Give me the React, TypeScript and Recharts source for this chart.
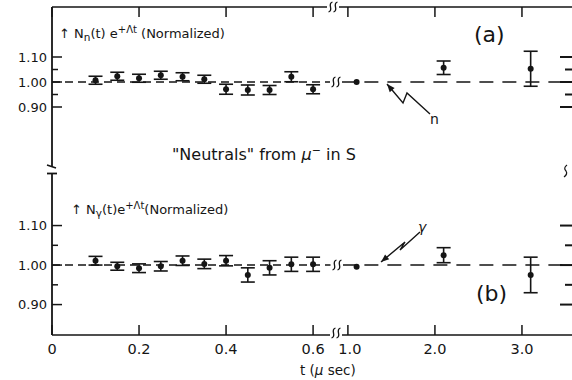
import { ComposedChart, Scatter, ErrorBar, XAxis, YAxis, ReferenceLine } from "recharts";

// time bins (µs) and normalized counts
const times = [0.1, 0.15, 0.2, 0.25, 0.3, 0.35, 0.4, 0.45, 0.5, 0.55, 0.6, 1.1, 2.1, 3.1];
const neutronValues = [1.007, 1.023, 1.015, 1.027, 1.021, 1.011, 0.971, 0.968, 0.968, 1.021, 0.971, 1.0, 1.057, 1.053];
const neutronErrors = [0.016, 0.016, 0.016, 0.016, 0.016, 0.016, 0.02, 0.02, 0.018, 0.02, 0.018, 0, 0.027, 0.07];
const gammaValues = [1.011, 0.997, 0.992, 0.997, 1.011, 1.003, 1.011, 0.975, 0.993, 1.002, 1.002, 0.996, 1.025, 0.975];
const gammaErrors = [0.011, 0.01, 0.011, 0.012, 0.012, 0.012, 0.013, 0.018, 0.018, 0.018, 0.018, 0, 0.019, 0.045];

const tickTimes = [0, 0.2, 0.4, 0.6, 1.0, 2.0, 3.0];
const tickLabels = ["0", "0.2", "0.4", "0.6", "1.0", "2.0", "3.0"];
const yTicks = [0.9, 0.95, 1.0, 1.05, 1.1];
const yTickLabels = ["0.90", "", "1.00", "", "1.10"];

const INK = "#151515";
const FONT = "DejaVu Sans";
const AXIS_MAX = 1.195;

// plot boxes of the two panels (page pixels) and their value ranges
const panelA = { top: 7, bottom: 167, domain: [0.66, 1.3] };
const panelB = { top: 173, bottom: 335, domain: [0.823, 1.233] };

// broken time axis: linear up to 0.6, then compressed after 1.0
const toAxis = (t: number) => (t <= 0.6 ? t : 0.68 + (t - 1.0) * 0.2);

const neutronRows = times.map((t, i) => ({ pos: toAxis(t), v: neutronValues[i], err: neutronErrors[i] }));
const gammaRows = times.map((t, i) => ({ pos: toAxis(t), v: gammaValues[i], err: gammaErrors[i] }));
const tickPositions = tickTimes.map(toAxis);

const nearest = (arr: number[], v: number) => {
  let best = 0;
  arr.forEach((a, i) => {
    if (Math.abs(a - v) < Math.abs(arr[best] - v)) best = i;
  });
  return best;
};

const YTick = (p: any) => {
  const { x, y, payload } = p;
  const i = nearest(yTicks, payload.value);
  const label = yTickLabels[i];
  const len = label ? 10 : 6;
  return (
    <g>
      <line x1={x} x2={x + len} y1={y} y2={y} stroke={INK} strokeWidth={1.5} />
      {label && (
        <text x={x - 5} y={y + 4.5} textAnchor="end" fontSize={13} fontFamily={FONT} fill={INK}>
          {label}
        </text>
      )}
    </g>
  );
};

const XTick = (p: any) => {
  const { x, y, payload, side } = p;
  const i = nearest(tickPositions, payload.value);
  if (side === "top") {
    return <line x1={x} x2={x} y1={y} y2={y + 10} stroke={INK} strokeWidth={1.5} />;
  }
  return (
    <g>
      <line x1={x} x2={x} y1={y} y2={y - 10} stroke={INK} strokeWidth={1.5} />
      <text x={x + (i === 4 ? 2 : 0)} y={y + 19} textAnchor="middle" fontSize={14.5} fontFamily={FONT} fill={INK}>
        {tickLabels[i]}
      </text>
    </g>
  );
};

const dot = (p: any) => <circle cx={p.cx} cy={p.cy} r={3} fill={INK} />;

const Panel = ({ rows, panel, bottomAxis }: any) => {
  const chartTop = bottomAxis ? panel.top - 6 : 0;
  const height = bottomAxis ? 380 - chartTop : panel.bottom;
  return (
    <div style={{ position: "absolute", left: 0, top: chartTop }}>
      <ComposedChart
        width={573}
        height={height}
        data={rows}
        margin={{ top: panel.top - chartTop - (bottomAxis ? 0 : 7), right: 1, bottom: 0, left: 0 }}
      >
        <XAxis
          dataKey="pos"
          type="number"
          domain={[0, AXIS_MAX]}
          ticks={tickPositions}
          interval={0}
          orientation={bottomAxis ? "bottom" : "top"}
          height={bottomAxis ? 380 - panel.bottom : 7}
          axisLine={{ stroke: INK, strokeWidth: 1.6 }}
          tickLine={false}
          tickSize={0}
          tickMargin={0}
          tick={(p: any) => <XTick {...p} side={bottomAxis ? "bottom" : "top"} />}
        />
        <YAxis
          yAxisId="l"
          dataKey="v"
          type="number"
          domain={panel.domain}
          ticks={yTicks}
          interval={0}
          width={52}
          axisLine={{ stroke: INK, strokeWidth: 1.8 }}
          tickLine={false}
          tickSize={0}
          tickMargin={0}
          tick={(p: any) => <YTick {...p} />}
        />
        <ReferenceLine
          yAxisId="l"
          segment={[{ x: 0, y: 1 }, { x: 0.64, y: 1 }]}
          stroke={INK}
          strokeWidth={1.4}
          strokeDasharray="8 5"
        />
        <ReferenceLine
          yAxisId="l"
          segment={[{ x: 0.665, y: 1 }, { x: AXIS_MAX, y: 1 }]}
          stroke={INK}
          strokeWidth={1.4}
          strokeDasharray="14 9"
        />
        <Scatter yAxisId="l" dataKey="v" shape={dot} isAnimationActive={false}>
          <ErrorBar dataKey="err" direction="y" width={7} stroke={INK} strokeWidth={1.6} />
        </Scatter>
      </ComposedChart>
    </div>
  );
};

const valueToY = (panel: any, v: number) => {
  const [lo, hi] = panel.domain;
  return panel.top + ((hi - v) / (hi - lo)) * (panel.bottom - panel.top);
};

// inward ticks on the right frame of a panel
const rightTicks = (panel: any, key: string) => (
  <g key={key}>
    {yTicks.map((v, i) => {
      const y = valueToY(panel, v);
      return (
        <rect
          key={v}
          x={yTickLabels[i] ? 560 : 565}
          y={y - 1}
          width={yTickLabels[i] ? 12 : 7}
          height={2}
          fill={INK}
        />
      );
    })}
  </g>
);

const squiggle = (cx: number, cy: number, key: string) => (
  <g key={key} fill="none" stroke={INK} strokeWidth={1.3}>
    <rect x={cx - 6} y={cy - 3} width={12} height={6} fill="#fff" stroke="none" />
    {[-2.5, 2.5].map((d) => (
      <path
        key={d}
        d={`M ${cx + d + 2} ${cy - 5} Q ${cx + d - 1} ${cy - 4} ${cx + d} ${cy} Q ${cx + d + 1} ${cy + 4} ${cx + d - 2} ${cy + 5}`}
      />
    ))}
  </g>
);

const arrow = (pts: number[][]) => {
  const [hx, hy] = pts[pts.length - 1];
  const [px, py] = pts[pts.length - 2];
  const dx = hx - px;
  const dy = hy - py;
  const l = Math.hypot(dx, dy);
  const ux = dx / l;
  const uy = dy / l;
  const bx = hx - ux * 8;
  const by = hy - uy * 8;
  return (
    <g>
      <polyline points={pts.map((q) => q.join(",")).join(" ")} fill="none" stroke={INK} strokeWidth={1.4} />
      <polygon
        points={`${hx},${hy} ${bx - uy * 3.2},${by + ux * 3.2} ${bx + uy * 3.2},${by - ux * 3.2}`}
        fill={INK}
      />
    </g>
  );
};

const Overlay = () => (
  <svg width={572} height={380} style={{ position: "absolute", left: 0, top: 0, pointerEvents: "none" }}>
    {rightTicks(panelA, "ra")}
    {rightTicks(panelB, "rb")}
    {squiggle(333, 7, "top")}
    {squiggle(336, 82, "a")}
    {squiggle(337, 265, "b")}
    {squiggle(336, 333, "bottom")}
    <line x1={47} y1={165} x2={56} y2={168} stroke={INK} strokeWidth={1.6} />
    <line x1={47} y1={173.5} x2={57} y2={173.5} stroke={INK} strokeWidth={1.8} />
    <path d="M 567 165 Q 563 168 566 171 Q 568 174 564 177" fill="none" stroke={INK} strokeWidth={1.2} />

    <text x={59} y={38} fontSize={13} fontFamily={FONT} fill={INK}>
      ↑ N<tspan fontSize={10.5} dy={3}>n</tspan>
      <tspan dy={-3}>(t) e</tspan>
      <tspan fontSize={10} dy={-5}>+Λt</tspan>
      <tspan dy={5}> (Normalized)</tspan>
    </text>
    <text x={474} y={42} fontSize={22} fontFamily={FONT} fill={INK}>(a)</text>
    <text x={172} y={160} fontSize={16} fontFamily={FONT} fill={INK}>
      "Neutrals" from <tspan fontStyle="italic">μ</tspan>
      <tspan fontSize={11} dy={-6}>−</tspan>
      <tspan dy={6}> in S</tspan>
    </text>
    {arrow([[430, 114], [407, 93], [403, 103], [387, 84]])}
    <text x={430} y={124} fontSize={14} fontFamily={FONT} fill={INK}>n</text>

    <text x={71} y={214} fontSize={13} fontFamily={FONT} fill={INK}>
      ↑ N<tspan fontSize={10.5} dy={3}>γ</tspan>
      <tspan dy={-3}>(t)e</tspan>
      <tspan fontSize={10} dy={-5}>+Λt</tspan>
      <tspan dy={5}>(Normalized)</tspan>
    </text>
    <text x={476} y={301} fontSize={22} fontFamily={FONT} fill={INK}>(b)</text>
    {arrow([[420, 232], [400, 250], [405, 242], [381, 262]])}
    <text x={418} y={232} fontSize={14} fontFamily={FONT} fontStyle="italic" fill={INK}>γ</text>

    <text x={300} y={375} fontSize={13.5} fontFamily={FONT} fill={INK}>
      t (<tspan fontStyle="italic">μ</tspan> sec)
    </text>
  </svg>
);

export default function App() {
  return (
    <div style={{ position: "absolute", left: 0, top: 0, width: 572, height: 380, overflow: "hidden", background: "#fff" }}>
      <Panel rows={neutronRows} panel={panelA} bottomAxis={false} />
      <Panel rows={gammaRows} panel={panelB} bottomAxis />
      <Overlay />
    </div>
  );
}
